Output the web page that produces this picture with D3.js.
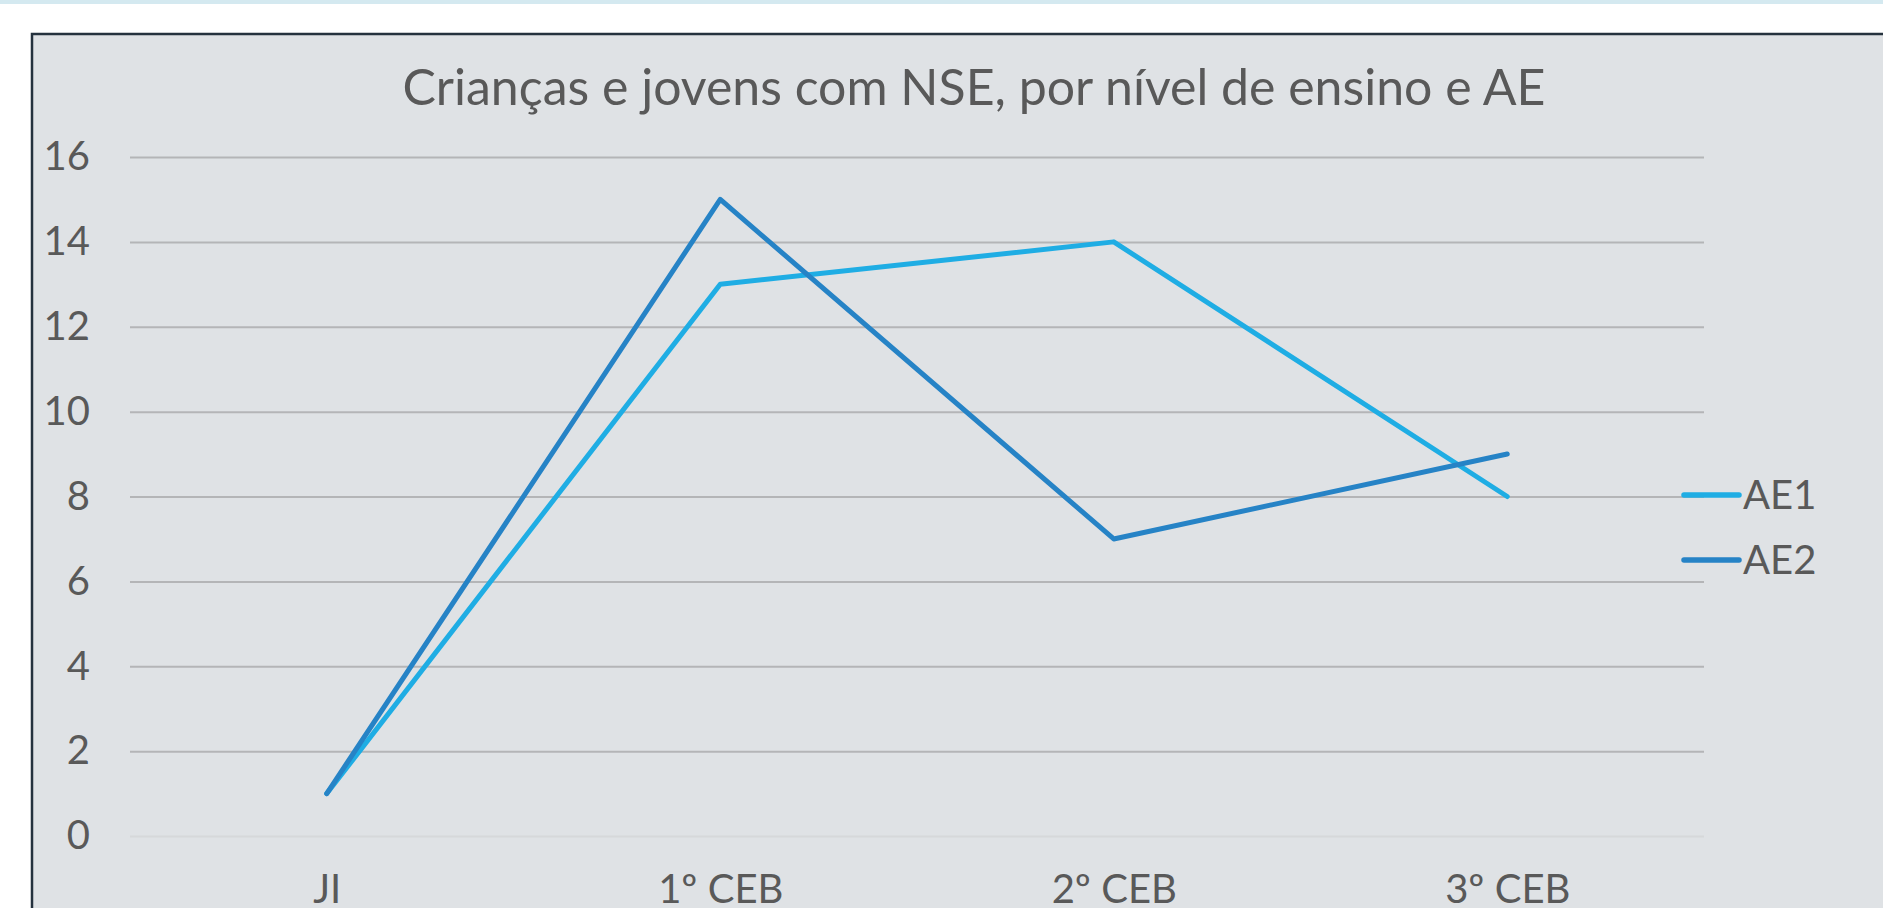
<!DOCTYPE html>
<html>
<head>
<meta charset="utf-8">
<script src="https://cdn.jsdelivr.net/npm/d3@7"></script>
<style>
  html, body { margin: 0; padding: 0; background: #ffffff; overflow: hidden; }
  svg { display: block; }
</style>
</head>
<body>
<svg id="chart" width="1883" height="908"></svg>
<script>
// data
var categories = ["JI", "1º CEB", "2º CEB", "3º CEB"];
var ae1 = [1, 13, 14, 8];
var ae2 = [1, 15, 7, 9];
var seriesNames = ["AE1", "AE2"];
var yTicks = [0, 2, 4, 6, 8, 10, 12, 14, 16];

var W = 1883, H = 908;
var svg = d3.select("#chart");
var textColor = "#595959";
var font = "Lato, 'Open Sans', sans-serif";
var colors = {"AE1": "#1fade4", "AE2": "#2683c6"};

// page bits: top strip and chart frame
svg.append("rect").attr("x", 0).attr("y", 0).attr("width", W).attr("height", 4)
    .attr("fill", "#d4e9f0");
svg.append("rect").attr("x", 32).attr("y", 34).attr("width", W).attr("height", H)
    .attr("fill", "#dfe2e5").attr("stroke", "#25323e").attr("stroke-width", 2.5);

var plotLeft = 130, plotRight = 1704, plotTop = 157, plotBottom = 836;

var x = d3.scalePoint()
    .domain(categories)
    .range([plotLeft, plotRight])
    .padding(0.5);

var y = d3.scaleLinear()
    .domain([0, 16])
    .range([plotBottom, plotTop]);

// gridlines + y labels
var yAxis = svg.append("g")
    .attr("transform", "translate(" + plotLeft + ",0)")
    .call(d3.axisLeft(y).tickValues(yTicks).tickSize(-(plotRight - plotLeft)).tickPadding(40));
yAxis.select(".domain").remove();
yAxis.selectAll(".tick line")
    .attr("stroke", function(d) { return d === 0 ? "#d6d8da" : "#b4b5b7"; })
    .attr("stroke-width", 2);
yAxis.selectAll(".tick text")
    .attr("fill", textColor)
    .style("font-family", font)
    .style("font-size", "40px");

// x labels
var xAxis = svg.append("g")
    .attr("transform", "translate(0," + plotBottom + ")")
    .call(d3.axisBottom(x).tickSize(0).tickPadding(0));
xAxis.select(".domain").remove();
xAxis.selectAll(".tick text")
    .attr("dy", null)
    .attr("y", 67)
    .attr("fill", textColor)
    .style("font-family", font)
    .style("font-size", "40px");

// lines
var line = d3.line()
    .x(function(d, i) { return x(categories[i]); })
    .y(function(d) { return y(d); });

var data = [ae1, ae2];
svg.selectAll(".series")
    .data(data)
    .enter()
    .append("path")
    .attr("class", "series")
    .attr("d", line)
    .attr("fill", "none")
    .attr("stroke", function(d, i) { return colors[seriesNames[i]]; })
    .attr("stroke-width", 5)
    .attr("stroke-linejoin", "round")
    .attr("stroke-linecap", "round");

// legend
var legend = svg.selectAll(".legend")
    .data(seriesNames)
    .enter()
    .append("g")
    .attr("class", "legend")
    .attr("transform", function(d, i) { return "translate(1684," + (495 + i * 65) + ")"; });
legend.append("line")
    .attr("x1", 0).attr("x2", 55)
    .attr("stroke", function(d) { return colors[d]; })
    .attr("stroke-width", 5.5)
    .attr("stroke-linecap", "round");
legend.append("text")
    .attr("x", 59)
    .attr("dy", "0.36em")
    .attr("fill", textColor)
    .style("font-family", font)
    .style("font-size", "40px")
    .text(function(d) { return d; });

// title
svg.append("text")
    .attr("x", 974)
    .attr("y", 105)
    .attr("text-anchor", "middle")
    .attr("fill", textColor)
    .style("font-family", font)
    .style("font-size", "50px")
    .text("Crianças e jovens com NSE, por nível de ensino e AE");
</script>
</body>
</html>
